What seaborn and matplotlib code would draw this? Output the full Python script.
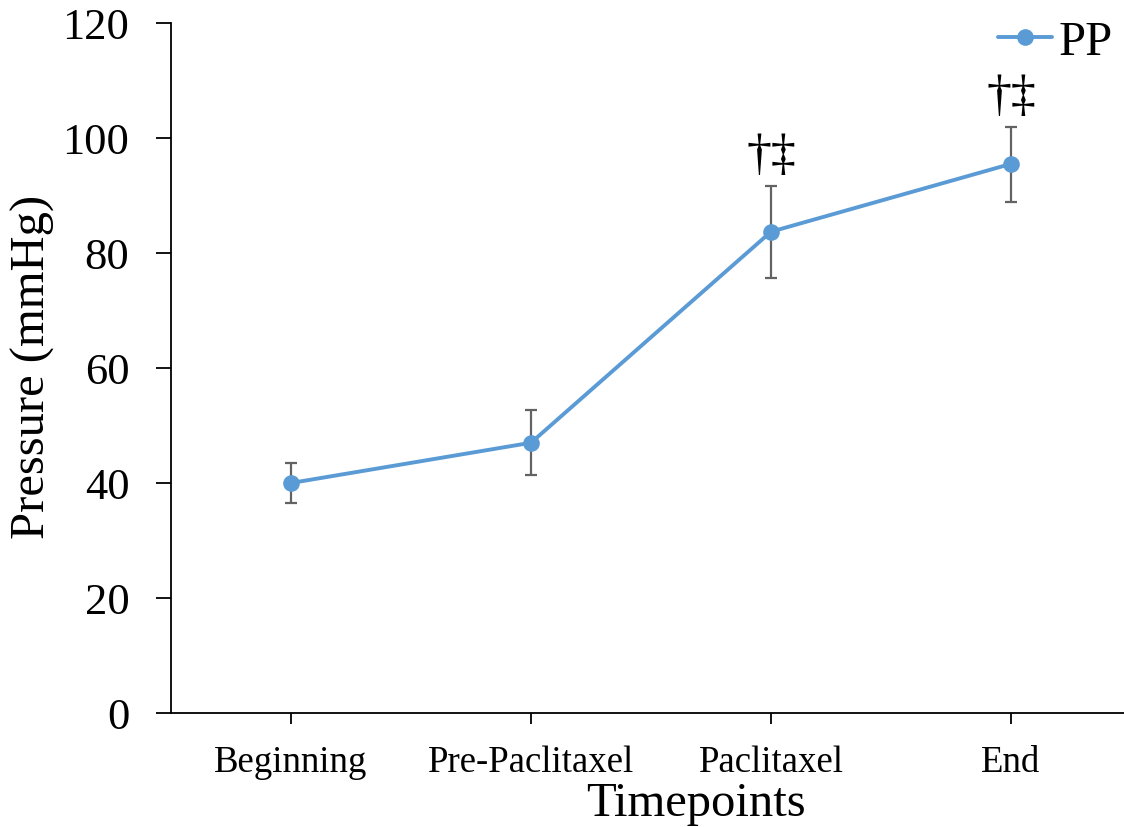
import matplotlib
matplotlib.use("Agg")
import matplotlib.pyplot as plt
import seaborn as sns
import pandas as pd
import numpy as np

categories = ["Beginning", "Pre-Paclitaxel", "Paclitaxel", "End"]
pp_mean = [40.0, 47.0, 83.7, 95.5]
pp_err_low = [3.5, 5.6, 8.0, 6.6]
pp_err_high = [3.5, 5.7, 8.0, 6.4]
annotations = ["", "", "†‡", "†‡"]
y_ticks = [0, 20, 40, 60, 80, 100, 120]

sns.set_theme(style="ticks")
plt.rcParams["font.family"] = ["Liberation Serif", "DejaVu Serif"]

line_color = "#5B9BD5"
err_color = "#636363"

fig = plt.figure(figsize=(11.24, 8.28), dpi=100)
ax = fig.add_axes([171/1124, (828-714)/828, (1131-171)/1124, (714-24)/828])

df = pd.DataFrame({"Timepoint": categories, "PP": pp_mean})
x_pos = np.arange(len(categories))

ax.errorbar(x_pos, pp_mean, yerr=[pp_err_low, pp_err_high], fmt="none",
            ecolor=err_color, elinewidth=1.6, capsize=4.5, capthick=1.6, zorder=1)
sns.lineplot(data=df, x=x_pos, y="PP", ax=ax, color=line_color, linewidth=2.8,
             marker="o", markersize=12, markeredgewidth=0, label="PP", zorder=3)

for xi, m, eh, t in zip(x_pos, pp_mean, pp_err_high, annotations):
    if t:
        ax.text(xi, m + eh + 1.2, t, ha="center", va="bottom", fontsize=36,
                color="black")

ax.set_xlim(-0.5, len(categories) - 0.5)
ax.set_ylim(0, 120)
ax.set_yticks(y_ticks)
ax.set_yticklabels([str(v) for v in y_ticks], fontsize=32)
ax.set_xticks(x_pos)
ax.set_xticklabels(categories, fontsize=26.5)
ax.tick_params(axis="both", direction="out", width=1.3, colors="black")
ax.tick_params(axis="y", length=11, pad=19)
ax.tick_params(axis="x", length=8, pad=15)
ax.set_xlabel("Timepoints", fontsize=35, color="black")
ax.xaxis.set_label_coords((696 - 171) / 960, -(816 - 714) / 690, transform=ax.transAxes)
ax.xaxis.label.set_va("baseline")
ax.set_ylabel("Pressure (mmHg)", fontsize=35, color="black")
ax.yaxis.set_label_coords((33 - 171) / 960, (714 - 367) / 690, transform=ax.transAxes)
ax.yaxis.label.set_va("center")

for s in ["top", "right"]:
    ax.spines[s].set_visible(False)
for s in ["left", "bottom"]:
    ax.spines[s].set_color("black")
    ax.spines[s].set_linewidth(1.3)

leg = ax.legend(loc="upper right", bbox_to_anchor=(1118/1124, 1 - 16/828), bbox_transform=fig.transFigure,
                frameon=False, fontsize=35, handlelength=1.1, handletextpad=0.15,
                borderaxespad=0, borderpad=0.1)
for t in leg.get_texts():
    t.set_color("black")

fig.savefig("out.png", dpi=100)
